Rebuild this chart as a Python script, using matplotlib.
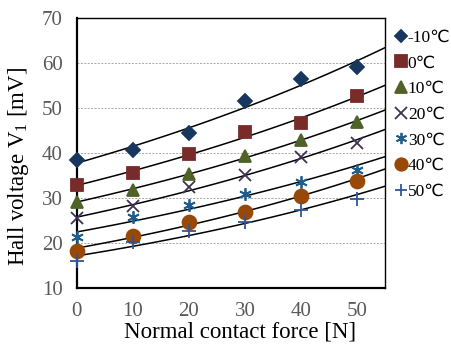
import numpy as np
import matplotlib
matplotlib.use("Agg")
import matplotlib.pyplot as plt

plt.rcParams['font.family'] = ['Liberation Serif', 'DejaVu Sans']
plt.rcParams['mathtext.fontset'] = 'custom'
plt.rcParams['mathtext.rm'] = 'Liberation Serif'

# normal contact force [N]
force = [0, 10, 20, 30, 40, 50]

# Hall voltage [mV] per temperature
labels = ['-10℃', '0℃', '10℃', '20℃', '30℃', '40℃', '50℃']
v_m10 = [38.4, 40.6, 44.4, 51.6, 56.4, 59.2]
v_0 = [32.9, 35.5, 39.8, 44.7, 46.7, 52.7]
v_10 = [29.2, 31.8, 35.3, 39.3, 42.9, 47.0]
v_20 = [25.5, 28.2, 32.5, 35.1, 39.2, 42.2]
v_30 = [21.3, 25.7, 28.4, 31.0, 33.6, 36.2]
v_40 = [18.3, 21.6, 24.7, 27.0, 30.5, 33.8]
v_50 = [15.9, 20.3, 22.7, 24.7, 27.3, 29.7]
series = [v_m10, v_0, v_10, v_20, v_30, v_40, v_50]

markers = ['D', 's', '^', 'x', (6, 2, 0), 'o', '+']
sizes = [7, 9, 9, 9, 9, 10, 10]
colors = ['#17375E', '#772C2A', '#4F6228', '#403152', '#215D8C', '#984807', '#2F5597']

fig = plt.figure(figsize=(4.52, 3.47), dpi=100)
ax = fig.add_axes([0.170, 0.170, 0.682, 0.778])

xs = np.linspace(0, 55, 100)
handles = []
for vals, lab, m, s, c in zip(series, labels, markers, sizes, colors):
    # exponential trendline like a spreadsheet
    k, b = np.polyfit(force, np.log(vals), 1)
    ax.plot(xs, np.exp(b + k * xs), color='black', lw=1.1, zorder=2)
    h, = ax.plot(force, vals, ls='none', marker=m, ms=s, color=c, mew=1.3,
                 clip_on=False, zorder=3, label=lab)
    handles.append(h)

ax.set_xlim(0, 55)
ax.set_ylim(10, 70)
ax.set_xticks([0, 10, 20, 30, 40, 50])
ax.set_yticks([10, 20, 30, 40, 50, 60, 70])
ax.tick_params(length=0, labelsize=15, colors='#595959', pad=10)
for ytick in [20, 30, 40, 50, 60]:
    ax.axhline(ytick, color='#a6a6a6', lw=0.7, ls=(0, (2, 1.5)), zorder=1)
for sp in ax.spines.values():
    sp.set_linewidth(1.0)
ax.spines['left'].set_linewidth(1.6)
ax.spines['bottom'].set_linewidth(1.6)

ax.set_xlabel('Normal contact force [N]', fontsize=16.5)
ax.set_ylabel(r'Hall voltage V$_\mathregular{1}$ [mV]', fontsize=16.5)
ax.xaxis.set_label_coords(0.53, -0.125)
ax.yaxis.set_label_coords(-0.15, 0.45)

fig.legend(handles=handles, loc='upper left', bbox_to_anchor=(0.86, 0.935),
           frameon=False, fontsize=12.5, handlelength=0.6, handletextpad=0.1,
           labelspacing=0.55, borderaxespad=0, markerscale=0.9)

fig.savefig('out.png', dpi=100)
